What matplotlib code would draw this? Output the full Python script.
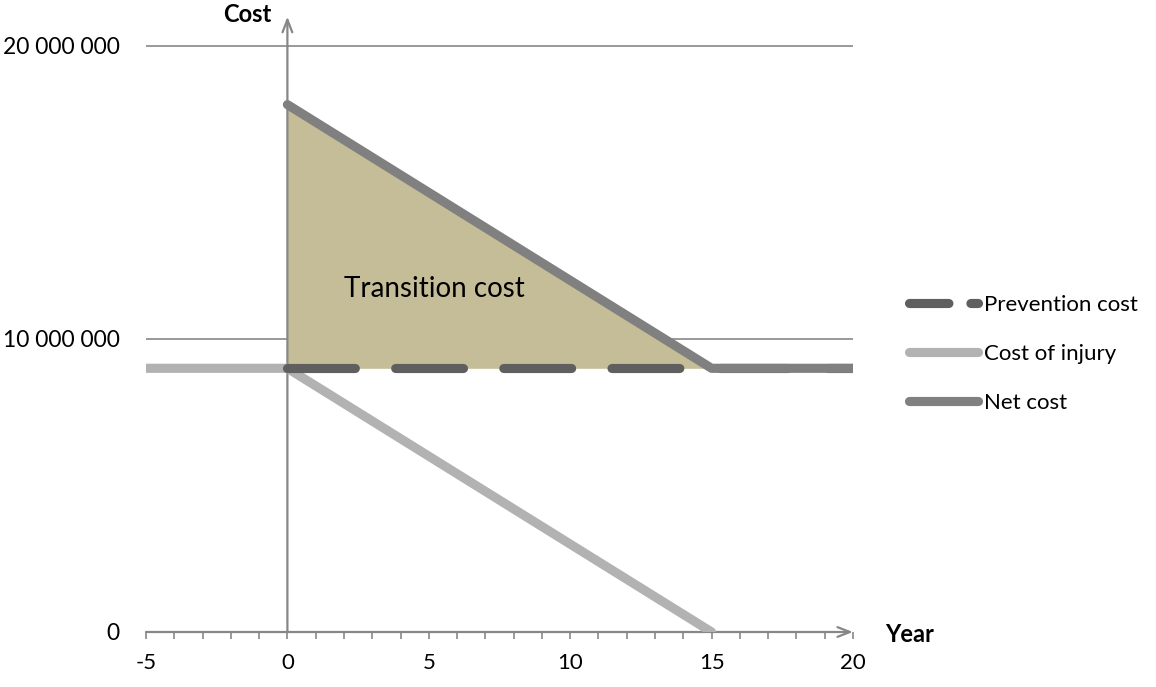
import matplotlib
matplotlib.use("Agg")
import matplotlib.pyplot as plt
from matplotlib.lines import Line2D

plt.rcParams['font.family'] = ['Lato', 'DejaVu Sans']

# Data
years_prevention = [0, 20]
prevention_cost = [9_000_000, 9_000_000]
years_injury = [-5, 0, 15]
cost_of_injury = [9_000_000, 9_000_000, 0]
years_net = [0, 15, 20]
net_cost = [18_000_000, 9_000_000, 9_000_000]
fill_years = [0, 15]
fill_top = [18_000_000, 9_000_000]
fill_bottom = [9_000_000, 9_000_000]
y_ticks = [0, 10_000_000, 20_000_000]
y_tick_labels = ["0", "10 000 000", "20 000 000"]
x_major = [-5, 0, 5, 10, 15, 20]
x_minor = list(range(-5, 21))
legend_labels = ["Prevention cost", "Cost of injury", "Net cost"]

W, H = 1156, 687
fig = plt.figure(figsize=(W / 100, H / 100), dpi=100)
left, right = 146 / W, 853 / W
bottom = (H - 632) / H
top_px = 632 - 21 * 29.3
ax = fig.add_axes([left, bottom, right - left, (632 - top_px) / H])
ax.set_xlim(-5, 20)
ax.set_ylim(0, 21_000_000)
for s in ax.spines.values():
    s.set_visible(False)

axis_col = "#878787"
lw = 6.6

# gridlines
for yv in y_ticks[1:]:
    ax.plot([-5, 20], [yv, yv], color=axis_col, lw=1.2, zorder=1, solid_capstyle='butt')

# fill
ax.fill_between(fill_years, fill_bottom, fill_top, color="#c4bd97", lw=0, zorder=2)

# axes with arrows
ax.annotate("", xy=(20, 0), xytext=(-5, 0),
            arrowprops=dict(arrowstyle="->,head_length=0.9,head_width=0.35", color=axis_col, lw=1.6,
                            shrinkA=0, shrinkB=0), zorder=3, annotation_clip=False)
ax.annotate("", xy=(0, 21_000_000), xytext=(0, 0),
            arrowprops=dict(arrowstyle="->,head_length=0.9,head_width=0.35", color=axis_col, lw=1.6,
                            shrinkA=0, shrinkB=0), zorder=3, annotation_clip=False)

# lines
l_inj, = ax.plot(years_injury, cost_of_injury, color="#b2b2b2", lw=lw,
                 solid_capstyle='round', solid_joinstyle='round', zorder=4)
l_prev, = ax.plot(years_prevention, prevention_cost, color="#5f5f5f", lw=lw,
                  dash_capstyle='round', zorder=5)
l_prev.set_dashes((7.4, 4.4))
l_net, = ax.plot(years_net, net_cost, color="#808080", lw=lw,
                 solid_capstyle='round', solid_joinstyle='round', zorder=6)

# ticks
ax.set_xticks(x_major)
ax.set_xticks(x_minor, minor=True)
ax.set_xticklabels([str(v) for v in x_major])
ax.tick_params(axis='x', which='both', direction='out', length=5, width=1.2,
               color=axis_col, labelsize=16, pad=10)
ax.set_yticks(y_ticks)
ax.set_yticklabels(y_tick_labels)
ax.tick_params(axis='y', length=0, labelsize=16.5, pad=19)
for t in ax.get_xticklabels() + ax.get_yticklabels():
    t.set_color("black")

# texts
fig.text(247 / W, 1 - 15 / H, "Cost", fontsize=17, fontweight='bold', ha='center', va='center')
fig.text(885 / W, 1 - 634 / H, "Year", fontsize=17, fontweight='bold', ha='left', va='center')
ax.text(5.2, 11_700_000, "Transition cost", fontsize=20, ha='center', va='center', zorder=7)

# legend
h_prev = Line2D([], [], color="#5f5f5f", lw=lw, dash_capstyle='round')
h_prev.set_dashes((4.3, 2.4))
h_inj = Line2D([], [], color="#b2b2b2", lw=lw, solid_capstyle='round')
h_net = Line2D([], [], color="#808080", lw=lw, solid_capstyle='round')
fig.legend([h_prev, h_inj, h_net], legend_labels, loc='center left',
           bbox_to_anchor=(900 / W, 1 - 354 / H), frameon=False, fontsize=16,
           handlelength=3.1, handletextpad=0.3, labelspacing=1.3, borderaxespad=0)

fig.savefig("out.png", dpi=100)
